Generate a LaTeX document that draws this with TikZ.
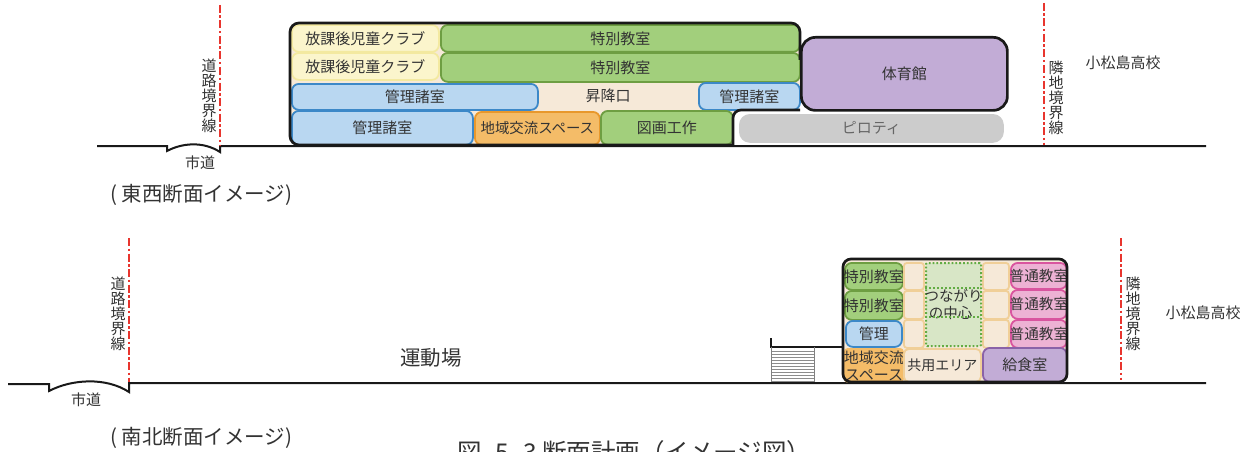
\documentclass[tikz,border=0pt]{standalone}
\usepackage{fontspec}
\setmainfont{Noto Sans CJK JP}
\usetikzlibrary{calc}
\definecolor{ink}{HTML}{333333}
\definecolor{bldg}{HTML}{F6E9D8}
\definecolor{yfill}{HTML}{FBF5CC}\definecolor{ydraw}{HTML}{F3E9A0}
\definecolor{gfill}{HTML}{A2CF7C}\definecolor{gdraw}{HTML}{6E9E42}
\definecolor{bfill}{HTML}{B9D7F1}\definecolor{bdraw}{HTML}{3C88C8}
\definecolor{ofill}{HTML}{F4BC68}\definecolor{odraw}{HTML}{E8982C}
\definecolor{pfill}{HTML}{C2ACD6}\definecolor{pdraw}{HTML}{8A62A8}
\definecolor{kfill}{HTML}{EDB2D4}\definecolor{kdraw}{HTML}{D9559F}
\definecolor{cdraw}{HTML}{F0CF98}
\definecolor{lgreen}{HTML}{D8E6C6}\definecolor{dgreen}{HTML}{62AC44}
\definecolor{redline}{HTML}{E8352E}
\tikzset{
 x=1pt,y=-1pt,
 room/.style={draw,line width=1.8pt,rounded corners=7pt,inner sep=0pt,text=ink,font=\fontsize{15}{17}\selectfont,align=center},
 yroom/.style={room,fill=yfill,draw=ydraw},
 groom/.style={room,fill=gfill,draw=gdraw},
 broom/.style={room,fill=bfill,draw=bdraw},
 oroom/.style={room,fill=ofill,draw=odraw},
 proom/.style={room,fill=pfill,draw=pdraw},
 kroom/.style={room,fill=kfill,draw=kdraw},
 croom/.style={room,fill=bldg,draw=cdraw,rounded corners=3pt},
 outline/.style={line width=2.7pt,draw=black!90,line join=round},
 ground/.style={line width=2pt,draw=black!90,line join=miter},
 bound/.style={line width=1.9pt,draw=redline,dash pattern=on 8pt off 2.5pt on 2.5pt off 2.5pt},
 lab/.style={text=ink,font=\fontsize{15}{17}\selectfont,inner sep=0pt},
 vlab/.style={lab,align=center,font=\fontsize{15}{15}\selectfont},
 head/.style={text=ink,font=\fontsize{20.5}{23}\selectfont,inner sep=0pt},
}
% box: style, name, x1, y1, x2, y2, text
\newcommand{\rbox}[7]{\node[#1,minimum width={(#5-#3)*1pt},minimum height={(#6-#4)*1pt},anchor=north west] (#2) at (#3,#4) {#7};}
\newcommand{\ovr}[1]{\makebox[0pt][c]{#1}}
\begin{document}
\begin{tikzpicture}
\useasboundingbox (0,0) rectangle (1252,452);
% upper building background
\fill[bldg,rounded corners=8pt] (290,145) -- (290,23) -- (800,23) -- (800,110) -- (733,110) -- (733,145) -- cycle;
% grounds
\coordinate (ga) at (97,146);\coordinate (gb) at (167,146);\coordinate (gc) at (167,151);
\coordinate (gd) at (220,152);\coordinate (ge) at (220,146);\coordinate (gf) at (1206,146);
\draw[ground] (ga) -- (gb) -- (gc) .. controls (182,143) and (203,141) .. (gd) -- (ge) -- (gf);
\coordinate (ha) at (8,384);\coordinate (hb) at (49,384);\coordinate (hc) at (49,391);
\coordinate (hd) at (129,392);\coordinate (he) at (129,383);\coordinate (hf) at (1206,383);
\draw[ground] (ha) -- (hb) -- (hc) .. controls (72,379) and (106,377) .. (hd) -- (he) -- (hf);
% boundaries
\coordinate (b1a) at (220,5);\coordinate (b1b) at (220,145);
\coordinate (b2a) at (1044,3);\coordinate (b2b) at (1044,145);
\coordinate (b3a) at (129,238);\coordinate (b3b) at (129,382);
\coordinate (b4a) at (1121,238);\coordinate (b4b) at (1121,380);
\draw[bound] (b1a) -- (b1b);\draw[bound] (b2a) -- (b2b);\draw[bound] (b3a) -- (b3b);\draw[bound] (b4a) -- (b4b);
% upper rooms
\rbox{yroom}{a1}{291}{24}{438}{51}{放課後児童クラブ}
\rbox{yroom}{a2}{291}{52}{438}{79}{放課後児童クラブ}
\rbox{groom}{a3}{440}{24}{799}{51}{特別教室}
\rbox{groom}{a4}{440}{52}{799}{81}{特別教室}
\node[lab] (a5) at (608,96) {昇降口};
\rbox{broom}{a6}{291}{83}{537}{109}{管理諸室}
\rbox{broom}{a7}{698}{82}{799}{109}{管理諸室}
\rbox{broom}{a8}{291}{110}{472}{144}{管理諸室}
\rbox{oroom}{a9}{474}{111}{599}{144}{\fontsize{14.4}{16}\selectfont 地域交流スペース}
\rbox{groom}{a10}{600}{110}{732}{144}{図画工作}
\rbox{room,fill=black!20,draw=black!20,rounded corners=10pt,text=black!60}{a11}{739}{114}{1002}{141}{ピロティ}
\draw[outline,rounded corners=9pt] (733,145) -- (290,145) -- (290,23) -- (800,23) -- (800,60);
\draw[outline,rounded corners=8pt] (800,110) -- (733,110) -- (733,145);
\rbox{room,fill=pfill,draw=black!90,line width=2.7pt,rounded corners=14pt}{a12}{800}{36}{1006}{109}{\raisebox{-3pt}{体育館}}
% lower section
\fill[bldg,rounded corners=8pt] (843,259) rectangle (1067,382);
\rbox{groom,font=\fontsize{15}{16}\selectfont}{c1}{844}{262}{902}{289}{\ovr{特別教室}}
\rbox{groom,font=\fontsize{15}{16}\selectfont}{c2}{844}{290}{902}{319}{\ovr{特別教室}}
\rbox{broom}{c3}{845}{320}{901}{346}{管理}
\rbox{oroom,rounded corners=3pt,draw=ofill,font=\fontsize{15}{17}\selectfont}{c4}{844}{348}{902}{381}{\ovr{地域交流}\\\ovr{スペース}}
\rbox{croom}{c5}{903}{262}{923}{289}{}
\rbox{croom}{c6}{903}{290}{923}{318}{}
\rbox{croom}{c7}{903}{319}{923}{347}{}
\rbox{croom}{c8}{982}{262}{1008}{289}{}
\rbox{croom}{c9}{982}{290}{1008}{318}{}
\rbox{croom}{c10}{982}{319}{1008}{347}{}
\rbox{room,fill=lgreen,draw=dgreen,dotted,line width=2pt,rounded corners=1pt,font=\fontsize{14.5}{17}\selectfont}{c11}{925}{262}{980}{345}{\raisebox{-6pt}{\ovr{つながり}}\\\raisebox{-6pt}{\ovr{の中心\hspace{6pt}}}}
\coordinate (c11a) at (925,288);\coordinate (c11b) at (980,288);\coordinate (c11c) at (925,317);\coordinate (c11d) at (980,317);
\draw[dgreen,dotted,line width=2pt] (c11a) -- (c11b) (c11c) -- (c11d);
\rbox{kroom,font=\fontsize{14.6}{16}\selectfont}{c12}{1010}{262}{1066}{288}{\ovr{普通教室}}
\rbox{kroom,font=\fontsize{14.6}{16}\selectfont}{c13}{1010}{289}{1066}{318}{\ovr{普通教室}}
\rbox{kroom,font=\fontsize{14.6}{16}\selectfont}{c14}{1010}{319}{1066}{347}{\ovr{普通教室}}
\rbox{croom,rounded corners=5pt,font=\fontsize{14}{16}\selectfont}{c15}{903}{348}{980}{381}{\ovr{共用エリア}}
\rbox{proom}{c16}{982}{347}{1066}{381}{給食室}
\draw[outline,rounded corners=8pt] (843,382) -- (843,259) -- (1067,259) -- (1067,382) -- cycle;
% stairs
\foreach \yy in {351,354,...,381}{\draw[black!45,line width=.6pt] (772,\yy) -- (814,\yy);}
\coordinate (s1) at (771,338);\coordinate (s2) at (771,347);\coordinate (s3) at (843,347);
\coordinate (s4) at (771,382);\coordinate (s5) at (814,347);\coordinate (s6) at (814,382);
\draw[black!90,line width=1.5pt] (s1) -- (s2) -- (s3);
\draw[black!50,line width=.8pt] (s2) -- (s4) (s5) -- (s6);
% labels
\node[vlab] (t1) at (209,96) {道\\路\\境\\界\\線};
\node[vlab] (t2) at (118,314) {道\\路\\境\\界\\線};
\node[vlab] (t3) at (1056,98) {隣\\地\\境\\界\\線};
\node[vlab] (t4) at (1133,314) {隣\\地\\境\\界\\線};
\node[lab] (t5) at (1123,63) {小松島高校};
\node[lab] (t6) at (1203,313) {小松島高校};
\node[lab] (t7) at (200,163) {市道};
\node[lab] (t8) at (86,400) {市道};
\node[head,anchor=west] (t9) at (110,195) {( 東西断面イメージ)};
\node[head,anchor=west] (t10) at (110,438) {( 南北断面イメージ)};
\node[head] (t11) at (431,358) {運動場};
\node[inner sep=0pt,text=ink,font=\fontsize{24.5}{26}\selectfont,anchor=west] (t12) at (457,452) {図\ \hspace{8pt}5\hspace{3pt}-\hspace{3pt}3 断面計画（イメージ図）};
\end{tikzpicture}
\end{document}
